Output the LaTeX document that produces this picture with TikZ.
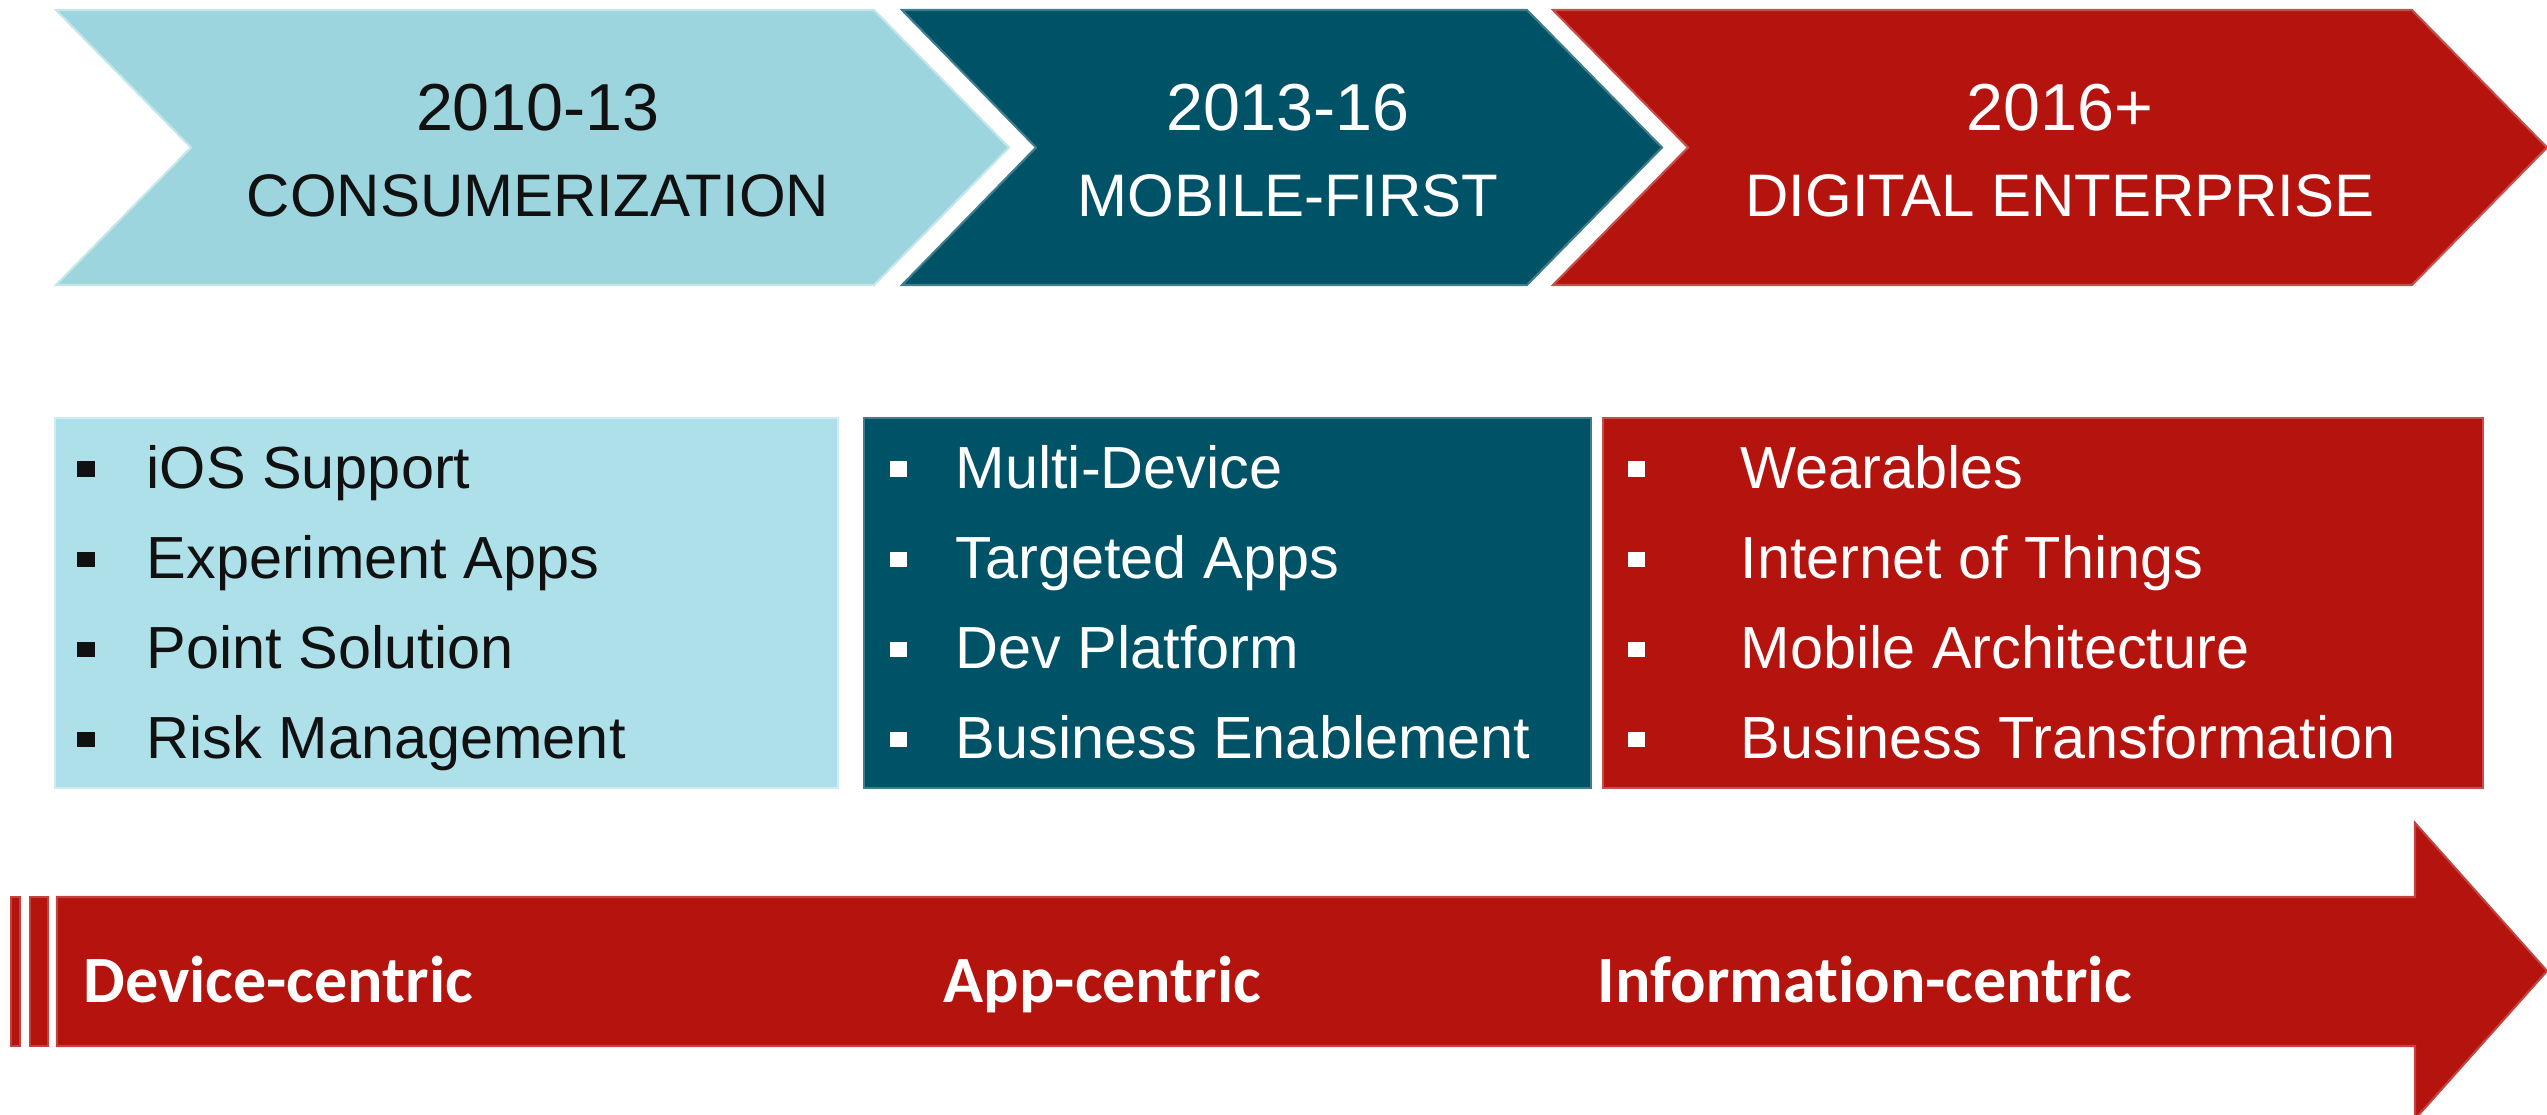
\documentclass[tikz,border=0pt]{standalone}
\usepackage{fontspec}
\setmainfont{Liberation Sans}
\newfontfamily\calibri[Ligatures=NoCommon]{Carlito}
\definecolor{cLight}{HTML}{9DD5DE}
\definecolor{cBox}{HTML}{ADE0E8}
\definecolor{cTeal}{HTML}{005266}
\definecolor{cRed}{HTML}{B5130E}
\definecolor{cInk}{HTML}{111111}
\begin{document}
\begin{tikzpicture}[x=0.01cm,y=-0.01cm,
  yeartxt/.style={anchor=base,inner sep=0pt,font=\fontsize{18.9}{22}\selectfont},
  phasetxt/.style={anchor=base,inner sep=0pt,font=\fontsize{17.07}{20}\selectfont},
  itemtxt/.style={anchor=base west,inner sep=0pt,font=\fontsize{16.9}{20}\selectfont},
  bandtxt/.style={anchor=base west,inner sep=0pt,text=white,font=\calibri\bfseries\fontsize{18.8}{22}\selectfont},
  bul/.style={rectangle,inner sep=0pt,minimum width=0.17cm,minimum height=0.15cm},
  edge/.style={line width=0.6pt}
]
\useasboundingbox (0,0) rectangle (2547,1115);

% chevrons
\filldraw[fill=cLight,draw=cLight!60!white,edge] (56,10) -- (874,10) -- (1009,147.5) -- (874,285) -- (56,285) -- (191,147.5) -- cycle;
\filldraw[fill=cTeal,draw=cTeal!75!white,edge] (902,10) -- (1527,10) -- (1662,147.5) -- (1527,285) -- (902,285) -- (1036,147.5) -- cycle;
\filldraw[fill=cRed,draw=cRed!75!white,edge] (1553,10) -- (2412,10) -- (2547,147.5) -- (2412,285) -- (1553,285) -- (1688,147.5) -- cycle;

\node[yeartxt,text=cInk] (y1) at (538,130) {2010-13};
\node[phasetxt,text=cInk] (p1) at (538,216) {CONSUMERIZATION};
\node[yeartxt,text=white] (y2) at (1288,130) {2013-16};
\node[phasetxt,text=white] (p2) at (1288,216) {MOBILE-FIRST};
\node[yeartxt,text=white] (y3) at (2060,130) {2016+};
\node[phasetxt,text=white] (p3) at (2060,216) {DIGITAL ENTERPRISE};

% boxes
\filldraw[fill=cBox,draw=cBox!60!white,edge] (55,418) rectangle (838,788);
\filldraw[fill=cTeal,draw=cTeal!75!white,edge] (864,418) rectangle (1591,788);
\filldraw[fill=cRed,draw=cRed!75!white,edge] (1603,418) rectangle (2483,788);

% box 1 items
\node[bul,fill=cInk] (b11) at (86,469) {};
\node[bul,fill=cInk] (b12) at (86,559) {};
\node[bul,fill=cInk] (b13) at (86,649) {};
\node[bul,fill=cInk] (b14) at (86,739) {};
\node[itemtxt,text=cInk] (t11) at (146,488) {iOS Support};
\node[itemtxt,text=cInk] (t12) at (146,578) {Experiment Apps};
\node[itemtxt,text=cInk] (t13) at (146,668) {Point Solution};
\node[itemtxt,text=cInk] (t14) at (146,758) {Risk Management};

% box 2 items
\node[bul,fill=white] (b21) at (898,469) {};
\node[bul,fill=white] (b22) at (898,559) {};
\node[bul,fill=white] (b23) at (898,649) {};
\node[bul,fill=white] (b24) at (898,739) {};
\node[itemtxt,text=white] (t21) at (955,488) {Multi-Device};
\node[itemtxt,text=white] (t22) at (955,578) {Targeted Apps};
\node[itemtxt,text=white] (t23) at (955,668) {Dev Platform};
\node[itemtxt,text=white] (t24) at (955,758) {Business Enablement};

% box 3 items
\node[bul,fill=white] (b31) at (1636,469) {};
\node[bul,fill=white] (b32) at (1636,559) {};
\node[bul,fill=white] (b33) at (1636,649) {};
\node[bul,fill=white] (b34) at (1636,739) {};
\node[itemtxt,text=white] (t31) at (1740,488) {Wearables};
\node[itemtxt,text=white] (t32) at (1740,578) {Internet of Things};
\node[itemtxt,text=white] (t33) at (1740,668) {Mobile Architecture};
\node[itemtxt,text=white] (t34) at (1740,758) {Business Transformation};

% bottom arrow band
\filldraw[fill=cRed,draw=cRed!80!white,edge] (11,897) rectangle (20,1046);
\filldraw[fill=cRed,draw=cRed!80!white,edge] (30,897) rectangle (48,1046);
\filldraw[fill=cRed,draw=cRed!80!white,edge] (57,897) -- (2415,897) -- (2415,823) -- (2547,971) -- (2415,1119) -- (2415,1046) -- (57,1046) -- cycle;

\node[bandtxt] (l1) at (83,1002) {Device-centric};
\node[bandtxt] (l2) at (943,1002) {App-centric};
\node[bandtxt] (l3) at (1597,1002) {Information-centric};
\end{tikzpicture}
\end{document}
